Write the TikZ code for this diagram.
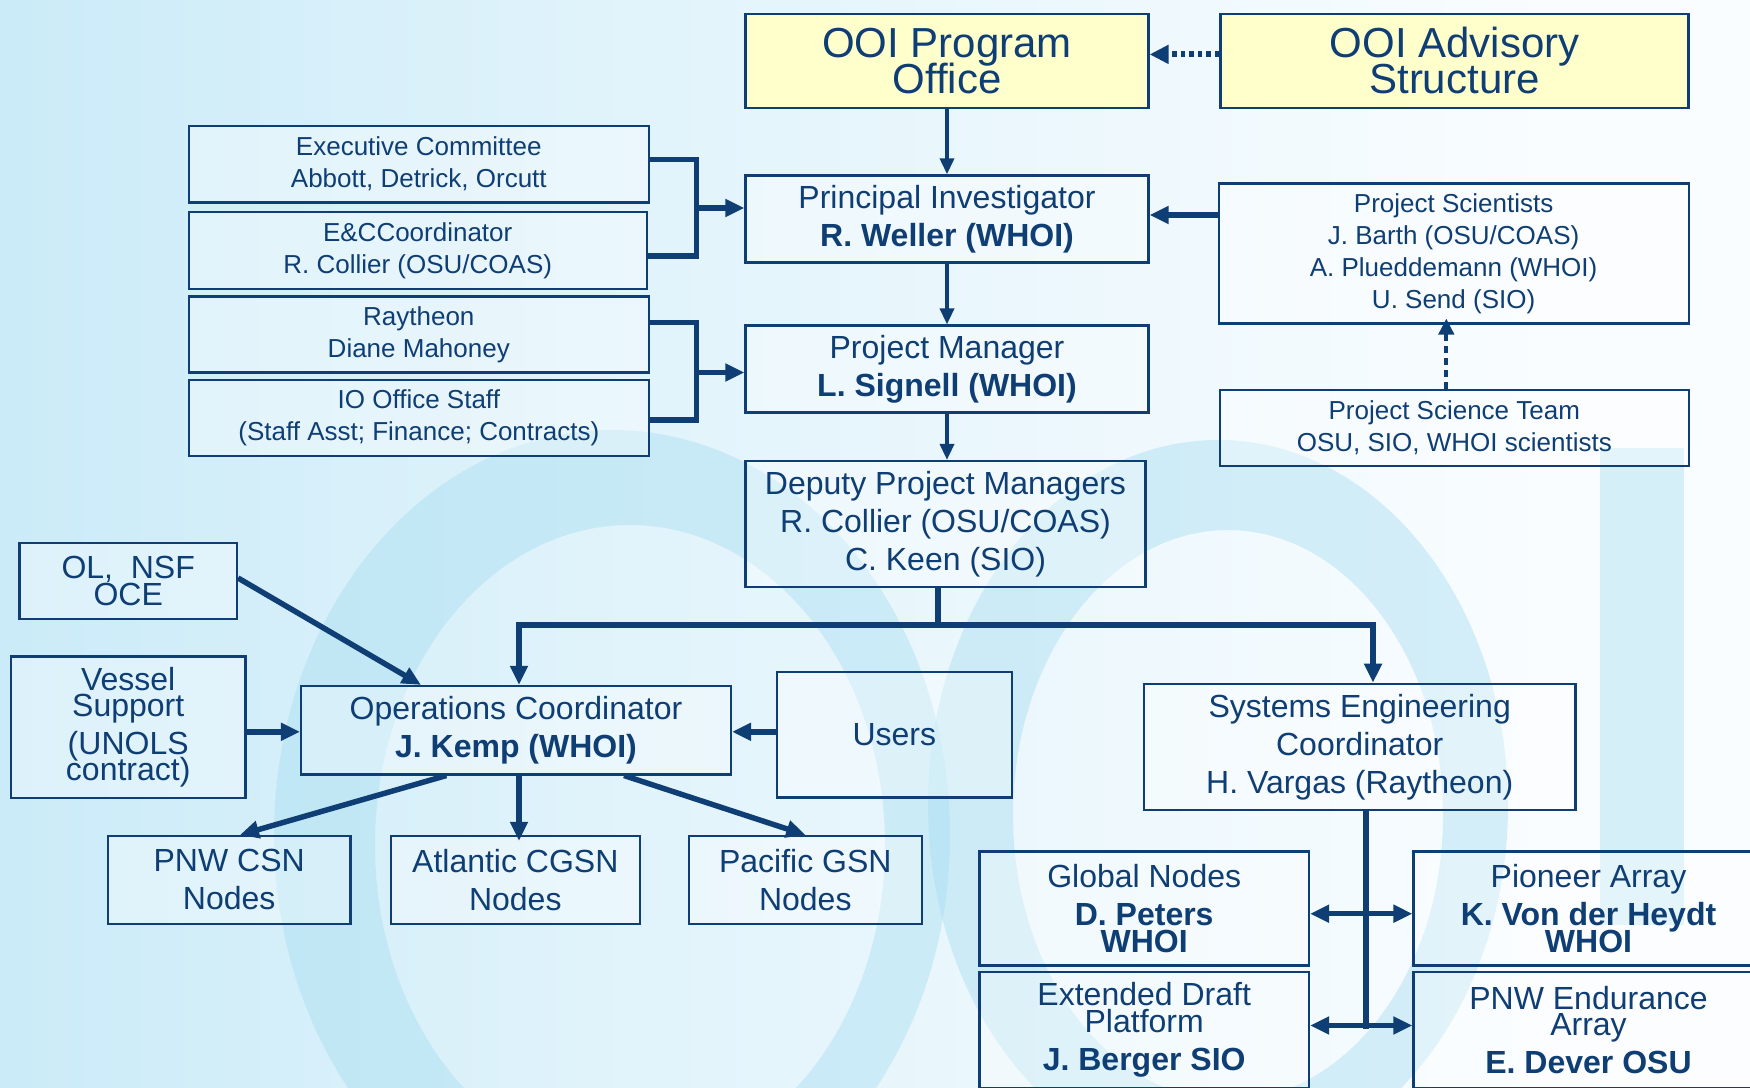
\documentclass[tikz,border=0pt]{standalone}
\usepackage{fontspec}
\setmainfont{Liberation Sans}
\usetikzlibrary{arrows.meta}
\definecolor{navy}{RGB}{14,62,116}
\definecolor{bgA}{RGB}{186,229,246}
\definecolor{bgB}{RGB}{224,243,251}
\definecolor{bgC}{RGB}{250,253,255}
\definecolor{wmc}{RGB}{168,222,241}
\definecolor{ylw}{RGB}{255,255,204}
\pgfdeclarehorizontalshading{bgshade}{100bp}{color(0bp)=(bgA); color(12bp)=(bgA); color(42bp)=(bgB); color(70bp)=(bgC); color(100bp)=(bgC)}
\newcommand\szS{\fontsize{26}{32}\selectfont\lineskiplimit=-100pt\lineskip=0pt}
\newcommand\szM{\fontsize{32}{38}\selectfont\lineskiplimit=-100pt\lineskip=0pt}
\newcommand\szL{\fontsize{42}{36}\selectfont\lineskiplimit=-100pt\lineskip=0pt}
\tikzset{
  box/.style={draw=navy, line width=2.2pt, fill=white, fill opacity=0.35, draw opacity=1, text opacity=1,
    text=navy, align=center, inner sep=0pt},
  ybox/.style={box, fill=ylw, fill opacity=1},
  thnline/.style={draw=navy, line width=3.5pt, -{Triangle[length=16pt,width=14pt]}},
  thkline/.style={draw=navy, line width=5.5pt},
  tipT/.style={-{Triangle[length=19pt,width=17pt]}},
  dottedarr/.style={draw=navy, line width=6pt, dash pattern=on 4.5pt off 4pt, -{Triangle[length=19pt,width=18pt]}},
  dashedarr/.style={draw=navy, line width=4pt, dash pattern=on 7pt off 5pt, -{Triangle[length=16pt,width=15pt]}},
  wmark/.style={fill=wmc, opacity=0.45, even odd rule},
}
\begin{document}
\begin{tikzpicture}[x=1pt,y=-1pt]
\useasboundingbox (0,0) rectangle (1750,1087);
\shade[shading=bgshade] (0,0) rectangle (1750,1087);
% watermark (OOI logo)
\fill[wmark] (612,835) ellipse [x radius=338, y radius=405] (630,845) ellipse [x radius=255, y radius=320];
\fill[wmark] (1218,805) ellipse [x radius=290, y radius=365] (1228,815) ellipse [x radius=215, y radius=285];
\fill[wmark] (1600,448) rectangle (1684,925);

% boxes
\node[ybox, font=\szL, minimum width=403, minimum height=93.7] (po) at (947,60.9) {OOI Program\\Office};
\node[ybox, font=\szL, minimum width=468, minimum height=93.7] (adv) at (1454.5,60.9) {OOI Advisory\\Structure};
\node[box, font=\szS, minimum width=460, minimum height=76.8] (ec) at (418.8,164) {Executive Committee\\Abbott, Detrick, Orcutt};
\node[box, font=\szS, minimum width=458, minimum height=77] (ecc) at (417.7,250.5) {E\&CCoordinator\\R. Collier (OSU/COAS)};
\node[box, font=\szS, minimum width=460, minimum height=76] (ray) at (418.8,334.5) {Raytheon\\Diane Mahoney};
\node[box, font=\szS, minimum width=460, minimum height=76] (io) at (418.8,418) {IO Office Staff\\(Staff Asst; Finance; Contracts)};
\node[box, font=\szM, minimum width=403, minimum height=87] (pi) at (947,218.9) {Principal Investigator\\\textbf{R. Weller (WHOI)}};
\node[box, font=\szM, minimum width=403, minimum height=87] (pm) at (947,369) {Project Manager\\\textbf{L. Signell (WHOI)}};
\node[box, font=\szM, minimum width=400, minimum height=125.8] (dep) at (945.5,523.9) {Deputy Project Managers\\R. Collier (OSU/COAS)\\C. Keen (SIO)};
\node[box, font=\szS, minimum width=470, minimum height=140] (ps) at (1453.6,253.4) {Project Scientists\\J. Barth (OSU/COAS)\\A. Plueddemann (WHOI)\\U. Send (SIO)};
\node[box, font=\szS, minimum width=468.6, minimum height=75.8] (pst) at (1454.3,427.9) {Project Science Team\\OSU, SIO, WHOI scientists};
\node[box, font=\szM, minimum width=217.5, minimum height=75.8] (ol) at (128.2,581) {OL,\ \ NSF\\[-11pt]OCE};
\node[box, font=\szM, minimum width=234.5, minimum height=141.5] (ves) at (128.2,727.2) {Vessel\\[-11.5pt]Support\\(UNOLS\\[-12pt]contract)};
\node[box, font=\szM, minimum width=430, minimum height=88.4] (ops) at (516,730.2) {Operations Coordinator\\\textbf{J. Kemp (WHOI)}};
\node[box, font=\szM, minimum width=234.7, minimum height=125.5] (usr) at (894.3,734.7) {Users};
\node[box, font=\szM, minimum width=431.4, minimum height=126.2] (se) at (1359.7,746.9) {Systems Engineering\\Coordinator\\H. Vargas (Raytheon)};
\node[box, font=\szM, minimum width=242.4, minimum height=87.6] (pnw) at (229.2,879.8) {PNW CSN\\Nodes};
\node[box, font=\szM, minimum width=249.4, minimum height=87.6] (atl) at (515.3,879.8) {Atlantic CGSN\\Nodes};
\node[box, font=\szM, minimum width=233.4, minimum height=87.6] (pac) at (805.3,879.8) {Pacific GSN\\Nodes};
\node[box, font=\szM, minimum width=329.6, minimum height=114] (glb) at (1144.2,908.5) {Global Nodes\\\textbf{D. Peters}\\[-11.5pt]\textbf{WHOI}};
\node[box, font=\szM, minimum width=350, minimum height=114] (pio) at (1588.5,908.5) {Pioneer Array\\\textbf{K. Von der Heydt}\\[-11.5pt]\textbf{WHOI}};
\node[box, font=\szM, minimum width=329.6, minimum height=116] (edp) at (1144.2,1030) {Extended Draft\\[-11.5pt]Platform\\\textbf{J. Berger SIO}};
\node[box, font=\szM, minimum width=350, minimum height=116] (pne) at (1588.5,1030) {PNW Endurance\\[-11.5pt]Array\\\textbf{E. Dever OSU}};

% connectors: top
\draw[dottedarr] ([yshift=6.5pt]adv.west) -- ([yshift=6.5pt]po.east);
\draw[thnline] (po.south) -- (pi.north);
\draw[thnline] (pi.south) -- (pm.north);
\draw[thnline] (pm.south) -- (pm.south |- dep.north);
% brackets
\coordinate (j1) at (696.4,208);
\coordinate (j2) at (696.4,372.5);
\draw[thkline] ([yshift=4.4pt]ec.east) -| (j1) |- ([yshift=-5.5pt]ecc.east);
\draw[thkline, tipT] (j1) -- (j1 -| pi.west);
\draw[thkline] ([yshift=11.8pt]ray.east) -| (j2) |- ([yshift=-2pt]io.east);
\draw[thkline, tipT] (j2) -- (j2 -| pm.west);
% project scientists
\coordinate (j3) at (1218.7,215);
\draw[thkline, tipT] (j3) -- (j3 -| pi.east);
\draw[dashedarr] ([xshift=-8pt]pst.north) -- ([xshift=-8pt,yshift=6pt]pst.north |- ps.south);
% deputy bus
\coordinate (busM) at (938,625);
\coordinate (busL) at (519,625);
\coordinate (busR) at (1373,625);
\draw[thkline] (dep.south -| busM) -- (busM);
\draw[thkline, tipT] (busM) -- (busL) -- (busL |- ops.north);
\draw[thkline, tipT] (busM) -- (busR) -- (busR |- se.north);
% operations
\draw[thkline, tipT] ([yshift=3pt]ol.east) -- ([xshift=-95pt]ops.north);
\draw[thkline, tipT] ([yshift=-4.6pt]ves.east) -- ([yshift=-4.6pt]ves.east -| ops.west);
\draw[thkline, tipT] ([yshift=2.9pt]usr.west) -- ([yshift=2.9pt]usr.west -| ops.east);
\draw[thkline, tipT] ([xshift=-69.6pt]ops.south) -- ([xshift=10.8pt]pnw.north);
\draw[thkline, tipT] ([xshift=3pt]ops.south) -- ([xshift=3pt,yshift=-6pt]ops.south |- atl.north);
\draw[thkline, tipT] ([xshift=108pt]ops.south) -- (pac.north);
% systems engineering
\coordinate (sebot) at (1366,1028.5);
\draw[thkline] (se.south -| sebot) -- (sebot);
\draw[thkline, {Triangle[length=19pt,width=17pt]}-{Triangle[length=19pt,width=17pt]}] ([yshift=-5.2pt]glb.east) -- ([yshift=-5.2pt]glb.east -| pio.west);
\draw[thkline, {Triangle[length=19pt,width=17pt]}-{Triangle[length=19pt,width=17pt]}] ([yshift=4.5pt]edp.east) -- ([yshift=4.5pt]edp.east -| pne.west);
\end{tikzpicture}
\end{document}
